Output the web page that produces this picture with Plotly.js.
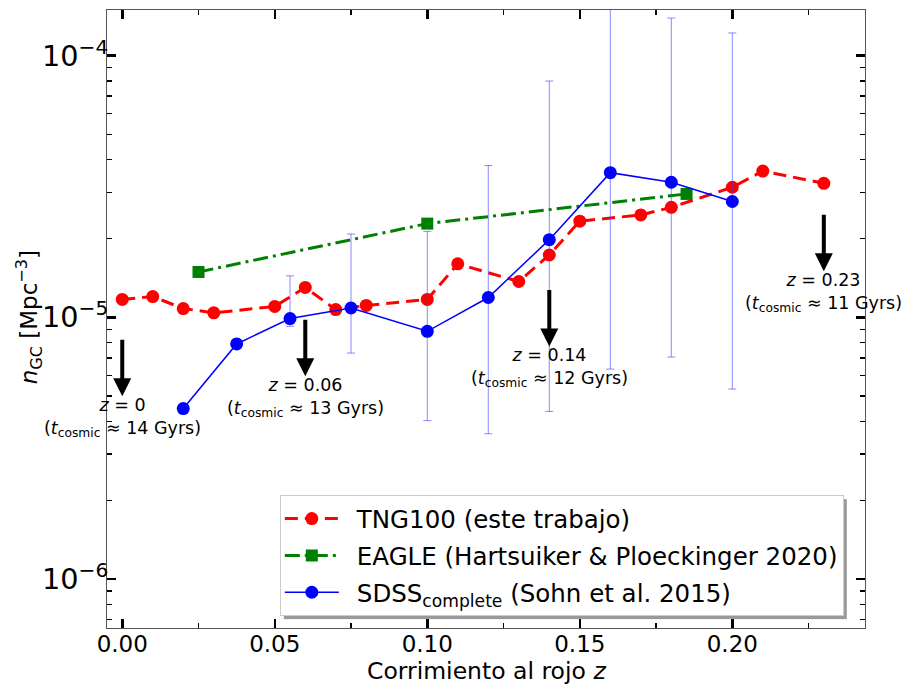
<!DOCTYPE html>
<html>
<head>
<meta charset="utf-8">
<script src="https://cdn.plot.ly/plotly-3.0.1.min.js"></script>
<style>html,body{margin:0;padding:0;background:#fff;}#plot{width:905px;height:687px;}</style>
</head>
<body>
<div id="plot"></div>
<script>
// TNG100 (this work)
const tngZ = [0, 0.01, 0.02, 0.03, 0.05, 0.06, 0.07, 0.08, 0.10, 0.11, 0.13, 0.14, 0.15, 0.17, 0.18, 0.20, 0.21, 0.23];
const tngN = [1.17e-5, 1.20e-5, 1.08e-5, 1.04e-5, 1.10e-5, 1.30e-5, 1.07e-5, 1.11e-5, 1.17e-5, 1.60e-5, 1.37e-5, 1.73e-5, 2.33e-5, 2.46e-5, 2.63e-5, 3.14e-5, 3.62e-5, 3.25e-5];
// EAGLE
const eagleZ = [0.025, 0.10, 0.185];
const eagleN = [1.49e-5, 2.28e-5, 2.96e-5];
// SDSS complete (Sohn et al. 2015)
const sdssZ = [0.02, 0.0375, 0.055, 0.075, 0.10, 0.12, 0.14, 0.16, 0.18, 0.20];
const sdssN = [4.48e-6, 7.91e-6, 9.89e-6, 1.085e-5, 8.84e-6, 1.19e-5, 1.98e-5, 3.57e-5, 3.28e-5, 2.77e-5];
const sdssUpper = [null, null, 1.44e-5, 2.08e-5, 2.13e-5, 3.80e-5, 7.99e-5, 2.5e-4, 1.39e-4, 1.22e-4];
const sdssLower = [null, null, 9.24e-6, 7.30e-6, 4.03e-6, 3.59e-6, 4.37e-6, 6.34e-6, 7.05e-6, 5.32e-6];
// Epoch markers
const markZ = [0, 0.06, 0.14, 0.23];
const markHeadN = [4.99e-6, 5.95e-6, 7.74e-6, 1.50e-5];
const markZLabel = ['0', '0.06', '0.14', '0.23'];
const markT = ['14', '13', '12', '11'];

const errPlus = sdssN.map((v, i) => sdssUpper[i] == null ? 0 : sdssUpper[i] - v);
const errMinus = sdssN.map((v, i) => sdssLower[i] == null ? 0 : v - sdssLower[i]);

const FONT = 'DejaVu Sans, sans-serif';

const traces = [
  {
    x: tngZ, y: tngN, type: 'scatter', mode: 'lines+markers', legendgroup: 'a',
    name: 'TNG100 (este trabajo)',
    line: {color: 'red', width: 3, dash: '13px,7px'},
    marker: {color: 'red', size: 13, symbol: 'circle'}
  },
  {
    x: eagleZ, y: eagleN, type: 'scatter', mode: 'lines+markers', legendgroup: 'b',
    name: 'EAGLE (Hartsuiker &amp; Ploeckinger 2020)',
    line: {color: 'green', width: 3, dash: '15px,5px,3px,5px'},
    marker: {color: 'green', size: 12, symbol: 'square'}
  },
  {
    x: sdssZ, y: sdssN, type: 'scatter', mode: 'lines+markers', legendgroup: 'c',
    name: 'SDSS<sub>complete</sub> (Sohn et al. 2015)',
    line: {color: 'blue', width: 1.5},
    marker: {color: 'blue', size: 13, symbol: 'circle'},
    error_y: {type: 'data', symmetric: false, array: errPlus, arrayminus: errMinus,
              color: 'rgba(60,60,255,0.6)', thickness: 1, width: 4}
  }
];

const annotations = [];
markZ.forEach((z, i) => {
  annotations.push({
    x: z, y: Math.log10(markHeadN[i]), xref: 'x', yref: 'y',
    ax: 0, ay: -58, axref: 'pixel', ayref: 'pixel',
    showarrow: true, arrowhead: 2, arrowsize: 0.9, arrowwidth: 4, arrowcolor: 'black', text: ''
  });
  annotations.push({
    x: z, y: Math.log10(markHeadN[i]), xref: 'x', yref: 'y',
    xanchor: 'center', yanchor: 'top', showarrow: false, yshift: 3,
    text: '<i>z</i> = ' + markZLabel[i] + '<br>(<i>t</i><sub>cosmic</sub> ≈ ' + markT[i] + ' Gyrs)',
    font: {family: FONT, size: 17.5, color: 'black'}
  });
});
// axis titles
annotations.push({
  xref: 'paper', yref: 'paper', x: 0.5, y: -0.069, xanchor: 'center', yanchor: 'middle',
  showarrow: false, text: 'Corrimiento al rojo <i>z</i>',
  font: {family: FONT, size: 23.5, color: 'black'}
});
annotations.push({
  xref: 'paper', yref: 'paper', x: -0.104, y: 0.503, xanchor: 'center', yanchor: 'middle',
  showarrow: false, textangle: -90, text: '<i>n</i><sub>GC</sub> [Mpc<sup>−3</sup>]',
  font: {family: FONT, size: 23, color: 'black'}
});

const layout = {
  width: 905, height: 687,
  margin: {l: 107, r: 40, t: 10, b: 59},
  paper_bgcolor: 'white', plot_bgcolor: 'white',
  font: {family: FONT, color: 'black'},
  showlegend: true,
  legend: {
    x: 0.228, y: 0.215, xanchor: 'left', yanchor: 'top',
    bgcolor: 'white', bordercolor: '#cccccc', borderwidth: 1,
    font: {family: FONT, size: 24.5, color: 'black'},
    itemwidth: 66, tracegroupgap: 2
  },
  xaxis: {
    range: [-0.005, 0.2435], showgrid: false, zeroline: false,
    tickvals: [0, 0.05, 0.10, 0.15, 0.20], ticktext: ['0.00', '0.05', '0.10', '0.15', '0.20'],
    ticks: 'inside', ticklen: 9, tickwidth: 2.5, tickcolor: 'black',
    minor: {dtick: 0.025, tick0: 0, ticks: 'inside', ticklen: 5, tickwidth: 1.5, tickcolor: 'black'},
    showline: true, linecolor: '#555', linewidth: 1.2, mirror: 'allticks',
    ticklabelstandoff: -5,
    tickfont: {family: FONT, size: 23, color: 'black'}
  },
  yaxis: {
    type: 'log', range: [-6.187, -3.826], showgrid: false, zeroline: false,
    dtick: 1, exponentformat: 'power',
    ticks: 'inside', ticklen: 9, tickwidth: 2.5, tickcolor: 'black',
    minor: {dtick: 'D1', ticks: 'inside', ticklen: 5, tickwidth: 1.5, tickcolor: 'black'},
    showline: true, linecolor: '#555', linewidth: 1.2, mirror: 'allticks',
    ticklabelstandoff: -7,
    tickfont: {family: FONT, size: 23, color: 'black'}
  },
  annotations: annotations
};

Plotly.newPlot('plot', traces, layout, {displayModeBar: false, staticPlot: true}).then(gd => {
  // drop shadow behind the legend box
  const bg = gd.querySelector('.legend .bg');
  if (bg) {
    const w = parseFloat(bg.getAttribute('width'));
    const h = parseFloat(bg.getAttribute('height'));
    const ns = 'http://www.w3.org/2000/svg';
    const r = document.createElementNS(ns, 'rect');
    r.setAttribute('x', 4); r.setAttribute('y', 4);
    r.setAttribute('width', w); r.setAttribute('height', h);
    r.setAttribute('fill', '#9a9a9a');
    bg.parentNode.insertBefore(r, bg);
  }
  // longer legend line samples, marker centred on them
  gd.querySelectorAll('.legend .traces').forEach(tr => {
    tr.querySelectorAll('path.js-line').forEach(p => p.setAttribute('d', 'M4,0h54'));
    tr.querySelectorAll('.legendpoints path.scatterpts').forEach(p => p.setAttribute('transform', 'translate(31,0)'));
  });
});
</script>
</body>
</html>
